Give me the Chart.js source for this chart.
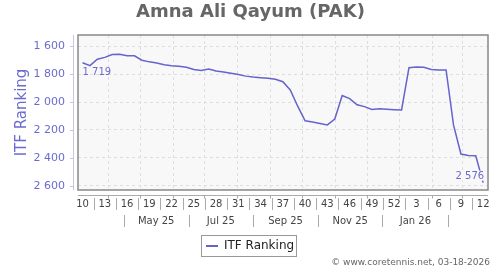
<!DOCTYPE html>
<html>
<head>
<meta charset="utf-8">
<script src="https://cdn.jsdelivr.net/npm/chart.js@4/dist/chart.umd.min.js"></script>
<style>
	body { margin:0; background:#fff; }
	canvas { display:block; }
</style>
</head>
<body>
<canvas id="rank_graph" width="500" height="270"></canvas>
<script>
const playerName = 'Amna Ali Qayum (PAK)'
const seriesLabel = 'ITF Ranking'
const footerText = '© www.coretennis.net, 03-18-2026'

// one point per week: 2025 weeks 10..52, then 2026 weeks 1..12
const weeks = [10,11,12,13,14,15,16,17,18,19,20,21,22,23,24,25,26,27,28,29,30,31,32,33,34,35,36,37,38,39,40,41,42,43,44,45,46,47,48,49,50,51,52,1,2,3,4,5,6,7,8,9,10,11,12]
const rankings = [1719,1740,1694,1681,1660,1658,1669,1670,1701,1713,1721,1733,1740,1745,1752,1768,1775,1764,1779,1785,1794,1804,1815,1822,1826,1830,1838,1855,1914,2030,2134,2143,2153,2164,2122,1954,1976,2020,2033,2053,2049,2052,2055,2057,1755,1750,1751,1767,1771,1771,2164,2372,2382,2384,2576]
const firstWeekDate = '2025-03-08'

const yTicks = [1600,1800,2000,2200,2400,2600]
const monthStarts = ['2025-04-01','2025-05-01','2025-06-01','2025-07-01','2025-08-01','2025-09-01','2025-10-01','2025-11-01','2025-12-01','2026-01-01','2026-02-01','2026-03-01']
const monthBreaks = ['2025-04-16','2025-06-16','2025-08-16','2025-10-16','2025-12-16','2026-02-16']
const monthLabels = ['May 25','Jul 25','Sep 25','Nov 25','Jan 26']

const lineColor = '#6464cc'
const axisBlue = '#6b6bcf'
const font = 'DejaVu Sans'


function format(value){
	return String(value).replace(/\B(?=(\d{3})+(?!\d))/g, ' ')
}

function weekIndex(date){
	return (new Date(date) - new Date(firstWeekDate)) / (7*24*3600*1000)
}


const decor = {
	id:'decor',
	beforeDraw(chart){
		const { ctx, chartArea:a } = chart
		ctx.save()
		ctx.fillStyle = '#f8f8f8'
		ctx.fillRect(a.left, a.top, a.width, a.height)
		ctx.restore()
	},
	beforeDatasetsDraw(chart){
		const { ctx, chartArea:a, scales:{ x } } = chart
		ctx.save()
		ctx.strokeStyle = '#dedede'
		ctx.lineWidth = 1
		ctx.setLineDash([3, 3])
		for(const m of monthStarts){
			const px = Math.round(x.getPixelForValue(weekIndex(m))) + 0.5
			ctx.beginPath()
			ctx.moveTo(px, a.top)
			ctx.lineTo(px, a.bottom)
			ctx.stroke()
		}
		ctx.restore()
	},
	afterDraw(chart){
		const { ctx, chartArea:a, scales:{ x, y } } = chart
		ctx.save()

		// point labels for first and last week
		ctx.font = `10px "${font}"`
		ctx.textBaseline = 'middle'
		const last = rankings.length - 1
		let px = x.getPixelForValue(0)
		let py = y.getPixelForValue(rankings[0])
		ctx.fillStyle = axisBlue
		ctx.textAlign = 'left'
		ctx.fillText(format(rankings[0]), px, py + 10)
		px = x.getPixelForValue(last)
		py = y.getPixelForValue(rankings[last])
		const lastText = format(rankings[last])
		const w = ctx.measureText(lastText).width
		ctx.fillStyle = '#f8f8f8'
		ctx.fillRect(px - w, py - 12, w + 2, 10)
		ctx.fillStyle = axisBlue
		ctx.textAlign = 'right'
		ctx.fillText(lastText, px + 1, py - 6.5)

		// plot frame
		ctx.strokeStyle = '#888'
		ctx.lineWidth = 1.5
		ctx.strokeRect(a.left, a.top, a.width, a.height)

		// y axis line with ticks
		ctx.strokeStyle = '#c4c4ea'
		ctx.lineWidth = 1
		ctx.beginPath()
		ctx.moveTo(a.left - 4.5, a.top)
		ctx.lineTo(a.left - 4.5, a.bottom)
		for(const v of yTicks){
			const ty = Math.round(y.getPixelForValue(v)) + 0.5
			ctx.moveTo(a.left - 8, ty)
			ctx.lineTo(a.left - 4.5, ty)
		}
		ctx.stroke()

		// x axis line with month ticks
		const axisY = a.bottom + 5.5
		ctx.strokeStyle = '#aaa'
		ctx.beginPath()
		ctx.moveTo(a.left, axisY)
		ctx.lineTo(a.right, axisY)
		for(const m of monthStarts){
			const mx = Math.round(x.getPixelForValue(weekIndex(m))) + 0.5
			ctx.moveTo(mx, axisY)
			ctx.lineTo(mx, axisY + 3)
		}
		ctx.stroke()

		// week labels every third week
		ctx.font = `10px "${font}"`
		ctx.textAlign = 'center'
		ctx.fillStyle = '#444'
		ctx.strokeStyle = '#aaa'
		ctx.beginPath()
		for(let i = 0; i < weeks.length; i += 3){
			ctx.fillText(String(weeks[i]), x.getPixelForValue(i), a.bottom + 14)
			if(i + 3 < weeks.length){
				const sx = Math.round(x.getPixelForValue(i + 1.5)) + 0.5
				ctx.moveTo(sx, a.bottom + 8)
				ctx.lineTo(sx, a.bottom + 20)
			}
		}
		ctx.stroke()

		// month labels between breaks
		ctx.beginPath()
		for(const b of monthBreaks){
			const bx = Math.round(x.getPixelForValue(weekIndex(b))) + 0.5
			ctx.moveTo(bx, a.bottom + 25)
			ctx.lineTo(bx, a.bottom + 37)
		}
		ctx.stroke()
		monthLabels.forEach((label, k) => {
			const mx = (x.getPixelForValue(weekIndex(monthBreaks[k])) + x.getPixelForValue(weekIndex(monthBreaks[k + 1]))) / 2
			ctx.fillText(label, mx, a.bottom + 31)
		})

		// legend
		ctx.strokeStyle = '#999'
		ctx.strokeRect(201.5, 235.5, 95, 21)
		ctx.strokeStyle = lineColor
		ctx.lineWidth = 2
		ctx.beginPath()
		ctx.moveTo(206, 246)
		ctx.lineTo(218, 246)
		ctx.stroke()
		ctx.font = `12px "${font}"`
		ctx.textAlign = 'left'
		ctx.fillStyle = '#222'
		ctx.fillText(seriesLabel, 224, 246)

		// footer
		ctx.font = `9px "${font}"`
		ctx.textAlign = 'right'
		ctx.fillStyle = '#666'
		ctx.fillText(footerText, 490, 263)

		ctx.restore()
	}
}


new Chart(document.getElementById('rank_graph'), {
	type:'line',
	data:{
		datasets:[
			{
				label:seriesLabel,
				data:rankings.map((v, i) => ({ x:i, y:v })),
				borderColor:lineColor,
				borderWidth:1.5,
				pointRadius:0,
				tension:0,
				fill:false
			}
		]
	},
	options:{
		responsive:false,
		devicePixelRatio:1,
		animation:false,
		layout:{ padding:{ left:13, right:12, top:0, bottom:80 } },
		plugins:{
			legend:{ display:false },
			tooltip:{ enabled:false },
			title:{
				display:true,
				text:playerName,
				color:'#666',
				font:{ family:font, size:18, weight:'bold' },
				padding:{ top:2, bottom:11.4 }
			}
		},
		scales:{
			x:{
				type:'linear',
				display:false,
				min:-0.61,
				max:54.65
			},
			y:{
				reverse:true,
				min:1521,
				max:2629,
				afterBuildTicks: scale => { scale.ticks = yTicks.map(value => ({ value })) },
				afterFit: scale => { scale.width = 65 },
				ticks:{
					color:axisBlue,
					font:{ family:font, size:11 },
					padding:13,
					callback: value => format(value)
				},
				grid:{ color:'#dedede', drawTicks:false },
				border:{ display:false, dash:[3, 3] },
				title:{
					display:true,
					text:seriesLabel,
					color:axisBlue,
					font:{ family:font, size:15 },
					padding:{ top:0, bottom:0 }
				}
			}
		}
	},
	plugins:[decor]
})
</script>
</body>
</html>
